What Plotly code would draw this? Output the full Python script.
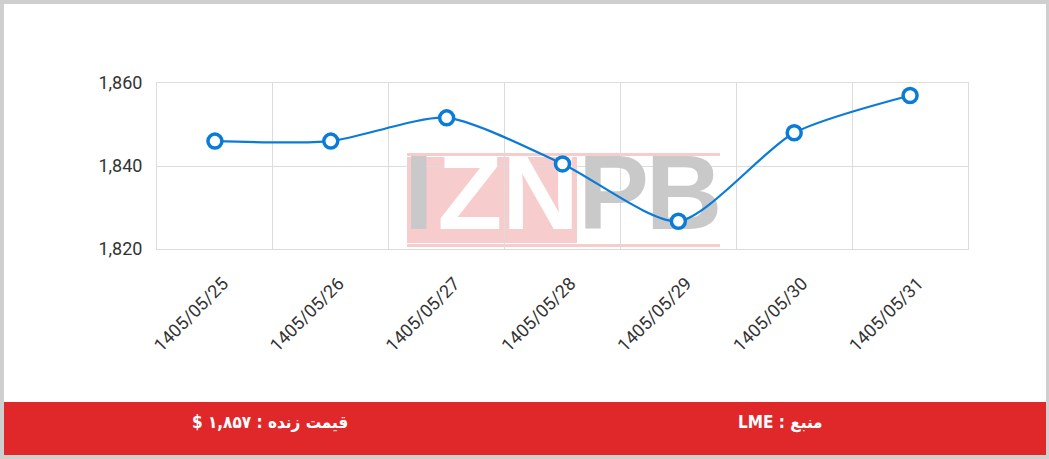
import plotly.graph_objects as go

# dados do grafico
dates = ["1405/05/25", "1405/05/26", "1405/05/27", "1405/05/28",
         "1405/05/29", "1405/05/30", "1405/05/31"]
prices = [1846, 1846, 1851.6, 1840.5, 1826.7, 1848, 1857]
y_ticks = [1820, 1840, 1860]

source_text = "LME : منبع"
live_text = "$ ۱,۸۵۷ : قیمت زنده"

# logo (marca d'agua)
logo_letters = ["I", "Z", "N", "P", "B"]
logo_x = [1.76, 2.20, 2.81, 3.44, 4.05]
logo_colors = ["#c9c9c9", "#ffffff", "#ffffff", "#c9c9c9", "#c9c9c9"]

W, H = 1049, 459
ML, MR, MT, MB = 157, 81, 83, 210
PW, PH = W - ML - MR, H - MT - MB


def px(x):
    return (x - ML) / PW


def py(y):
    return (H - MB - y) / PH


xs = list(range(len(dates)))
bounds = [i - 0.5 for i in range(len(dates) + 1)]

fig = go.Figure()

# letras do logo (abaixo da linha)
fig.add_trace(go.Scatter(
    x=logo_x, y=[1831.3] * len(logo_letters),
    mode="text", text=logo_letters,
    textfont=dict(family="Liberation Sans", size=106, color=logo_colors, weight="bold"),
    textposition="middle center", hoverinfo="skip", showlegend=False
))

fig.add_trace(go.Scatter(
    x=xs, y=prices,
    mode="lines+markers",
    line=dict(color="#0a7bd8", width=2.2, shape="spline", smoothing=0.7),
    marker=dict(size=14, color="white", line=dict(color="#0a7bd8", width=3.5)),
    showlegend=False
))

shapes = [
    # moldura branca
    dict(type="rect", xref="paper", yref="paper", x0=px(4), x1=px(1046), y0=py(455), y1=py(4),
         fillcolor="white", line=dict(width=0), layer="below"),
    # faixa vermelha
    dict(type="rect", xref="paper", yref="paper", x0=px(4), x1=px(1046), y0=py(455), y1=py(402),
         fillcolor="#e0282a", line=dict(width=0), layer="above"),
    # fundo rosa do logo
    dict(type="rect", xref="paper", yref="paper", x0=px(407), x1=px(577), y0=py(243), y1=py(157),
         fillcolor="#f6cccc", line=dict(width=0), layer="below"),
    dict(type="rect", xref="paper", yref="paper", x0=px(407), x1=px(720), y0=py(156), y1=py(153),
         fillcolor="#f6cccc", line=dict(width=0), layer="below"),
    dict(type="rect", xref="paper", yref="paper", x0=px(407), x1=px(720), y0=py(247), y1=py(244),
         fillcolor="#f6cccc", line=dict(width=0), layer="below"),
]

footer_font = dict(family="DejaVu Sans Condensed", size=17, color="white", weight="bold")
annotations = [
    dict(text=live_text, xref="paper", yref="paper", x=px(270), y=py(422),
         xanchor="center", yanchor="middle", showarrow=False, font=footer_font),
    dict(text=source_text, xref="paper", yref="paper", x=px(780), y=py(422),
         xanchor="center", yanchor="middle", showarrow=False, font=footer_font),
]

fig.update_layout(
    width=W, height=H,
    margin=dict(l=ML, r=MR, t=MT, b=MB),
    paper_bgcolor="#cfcfcf",
    plot_bgcolor="white",
    shapes=shapes,
    annotations=annotations,
    font=dict(family="Roboto", color="#333333"),
    xaxis=dict(
        range=[-0.5, len(dates) - 0.5],
        tickmode="array", tickvals=xs, ticktext=dates,
        tickangle=-45, tickfont=dict(size=18, color="#333333"),
        ticklabelstandoff=16, ticklabelshift=8,
        showgrid=False, zeroline=False,
        showline=True, linecolor="#dcdcdc", mirror=True,
        minor=dict(tickmode="array", tickvals=bounds, showgrid=True, gridcolor="#dcdcdc", ticks=""),
        fixedrange=True,
    ),
    yaxis=dict(
        range=[y_ticks[0], y_ticks[-1]],
        tickmode="array", tickvals=y_ticks, tickformat=",d",
        tickfont=dict(size=18, color="#333333"),
        showgrid=True, gridcolor="#dcdcdc", zeroline=False,
        showline=True, linecolor="#dcdcdc", mirror=True,
        ticklabelstandoff=10,
        fixedrange=True,
    ),
)

fig.write_html("out.html", config={"displayModeBar": False},
               post_script="document.body.style.margin='0px';")
